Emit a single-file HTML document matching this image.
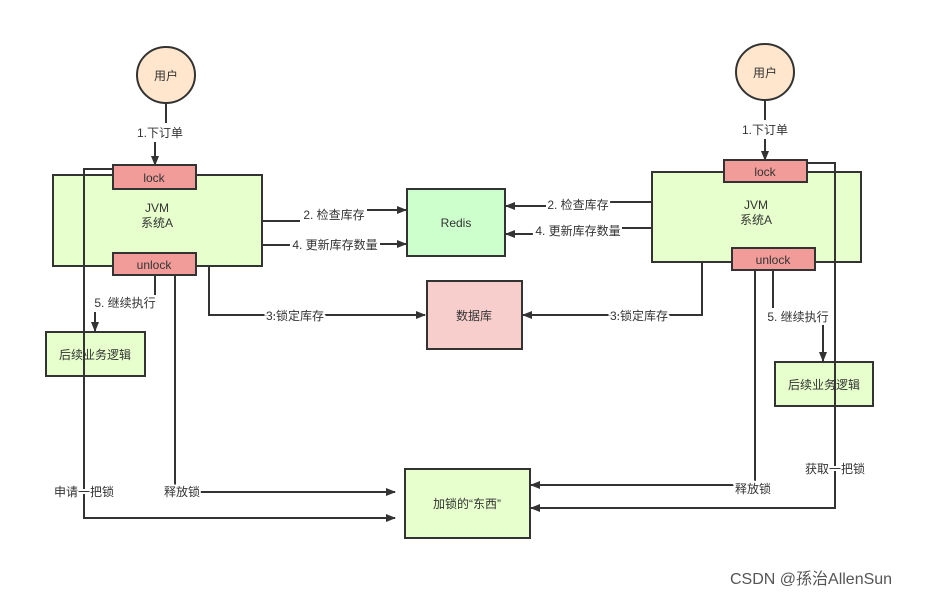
<!DOCTYPE html>
<html><head><meta charset="utf-8"><style>
body{margin:0;background:#fff}
svg{display:block}
text{font-family:"Liberation Sans","Noto Sans CJK SC",sans-serif;font-size:12px;fill:#333}
.h{paint-order:stroke;stroke:#fff;stroke-width:4px}
</style></head><body>
<svg width="932" height="597" viewBox="0 0 932 597">
<defs><marker id="a" markerWidth="10" markerHeight="10" refX="9" refY="5" orient="auto" markerUnits="userSpaceOnUse"><path d="M0,1 L10,5 L0,9 Z" fill="#333"/></marker></defs>
<g stroke="#333" stroke-width="2" fill="none">
<ellipse cx="166" cy="75" rx="29" ry="28" fill="#ffe6cc"/>
<ellipse cx="765" cy="72" rx="29" ry="28" fill="#ffe6cc"/>
<line x1="166" y1="103" x2="166" y2="123"/>
<line x1="155" y1="142" x2="155" y2="165" marker-end="url(#a)"/>
<line x1="765" y1="100" x2="765" y2="120"/>
<line x1="765" y1="139" x2="765" y2="160" marker-end="url(#a)"/>
<rect x="53" y="175" width="209" height="91" fill="#e6ffcc"/>
<rect x="652" y="172" width="209" height="90" fill="#e6ffcc"/>
<rect x="407" y="189" width="98" height="67" fill="#ccffcc"/>
<rect x="427" y="281" width="95" height="68" fill="#f8cecc"/>
<rect x="405" y="469" width="125" height="69" fill="#e6ffcc"/>
<rect x="46" y="332" width="99" height="44" fill="#e6ffcc"/>
<rect x="775" y="362" width="98" height="44" fill="#e6ffcc"/>
<polyline points="113,169 84,169 84,518 395,518" marker-end="url(#a)"/>
<line x1="155" y1="275" x2="155" y2="295"/>
<line x1="95" y1="312" x2="95" y2="331" marker-end="url(#a)"/>
<polyline points="175,275 175,492 395,492" marker-end="url(#a)"/>
<polyline points="209,266 209,315 425,315" marker-end="url(#a)"/>
<line x1="262" y1="221" x2="300" y2="221"/>
<line x1="367" y1="210" x2="406" y2="210" marker-end="url(#a)"/>
<line x1="262" y1="245" x2="290" y2="245"/>
<line x1="380" y1="244" x2="406" y2="244" marker-end="url(#a)"/>
<polyline points="807,163 835,163 835,508 531,508" marker-end="url(#a)"/>
<polyline points="755,270 755,485 531,485" marker-end="url(#a)"/>
<line x1="773" y1="270" x2="773" y2="308"/>
<line x1="823" y1="325" x2="823" y2="361" marker-end="url(#a)"/>
<polyline points="702,262 702,315 523,315" marker-end="url(#a)"/>
<line x1="652" y1="202" x2="610" y2="202"/>
<line x1="546" y1="206" x2="506" y2="206" marker-end="url(#a)"/>
<line x1="652" y1="228" x2="622" y2="228"/>
<line x1="533" y1="234" x2="506" y2="234" marker-end="url(#a)"/>
<rect x="113" y="165" width="83" height="24" fill="#f19c99"/>
<rect x="113" y="253" width="83" height="22" fill="#f19c99"/>
<rect x="724" y="160" width="83" height="22" fill="#f19c99"/>
<rect x="732" y="248" width="83" height="22" fill="#f19c99"/>
</g>
<g text-anchor="middle">
<text x="166" y="80">用户</text>
<text x="765" y="77">用户</text>
<text x="160" y="137">1.下订单</text>
<text x="765" y="134">1.下订单</text>
<text x="154" y="182">lock</text>
<text x="154" y="269">unlock</text>
<text x="765" y="176">lock</text>
<text x="773" y="264">unlock</text>
<text x="157" y="212">JVM</text>
<text x="157" y="227">系统A</text>
<text x="756" y="209">JVM</text>
<text x="756" y="224">系统A</text>
<text x="456" y="227">Redis</text>
<text x="474" y="320">数据库</text>
<text x="467" y="508">加锁的“东西”</text>
<text x="95" y="359">后续业务逻辑</text>
<text x="824" y="389">后续业务逻辑</text>
<text class="h" x="334" y="219">2. 检查库存</text>
<text class="h" x="335" y="249">4. 更新库存数量</text>
<text class="h" x="578" y="209">2. 检查库存</text>
<text class="h" x="578" y="235">4. 更新库存数量</text>
<text class="h" x="295" y="320">3.锁定库存</text>
<text class="h" x="639" y="320">3.锁定库存</text>
<text class="h" x="125" y="307">5. 继续执行</text>
<text class="h" x="798" y="321">5. 继续执行</text>
<text class="h" x="84" y="496">申请一把锁</text>
<text class="h" x="182" y="496">释放锁</text>
<text class="h" x="753" y="493">释放锁</text>
<text class="h" x="835" y="473">获取一把锁</text>
</g>
<text x="730" y="584" style="font-size:16px;fill:#555">CSDN @孫治AllenSun</text>
</svg>
</body></html>
